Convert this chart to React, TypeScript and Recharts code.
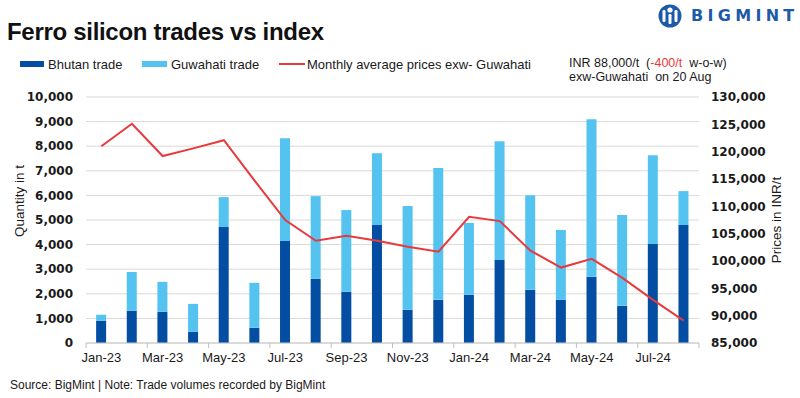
import React from 'react';
import { ComposedChart, Bar, Line, XAxis, YAxis, CartesianGrid } from 'recharts';

const months = ['Jan-23','Feb-23','Mar-23','Apr-23','May-23','Jun-23','Jul-23','Aug-23','Sep-23','Oct-23','Nov-23','Dec-23','Jan-24','Feb-24','Mar-24','Apr-24','May-24','Jun-24','Jul-24','Aug-24'];
const bhutanTrade = [900,1310,1270,460,4715,620,4145,2605,2080,4795,1350,1755,1960,3375,2160,1755,2690,1510,4025,4795];
const guwahatiTrade = [250,1580,1215,1130,1215,1825,4175,3365,3325,2920,4215,5355,2920,4825,3850,2840,6405,3690,3610,1380];
const monthlyPrice = [121000,125100,119200,120600,122100,114700,107500,103700,104600,103700,102600,101700,108100,107300,101900,98800,100400,96900,92900,89100];
const leftTicks = [0,1000,2000,3000,4000,5000,6000,7000,8000,9000,10000];
const rightTicks = [85000,90000,95000,100000,105000,110000,115000,120000,125000,130000];

const data = months.map((m, i) => ({
  month: m,
  bhutan: bhutanTrade[i],
  guwahati: guwahatiTrade[i],
  price: monthlyPrice[i],
}));

const W = 800;
const H = 398;
const LEFT_AXIS_W = 86;
const RIGHT_AXIS_W = 101;
const PLOT_W = W - LEFT_AXIS_W - RIGHT_AXIS_W;
const BAND = PLOT_W / months.length;

const DARK = '#034ea2';
const LIGHT = '#55c3f0';
const RED = '#e8393c';
const TEXT = '#1a1a1a';
const GRID = '#d9d9d9';
const SANS = '"Liberation Sans", Arial, sans-serif';
const BOLDNUM = '"DejaVu Sans", sans-serif';

const fmt = (v: number) => v.toLocaleString('en-US');

const XTick = (props: any) => {
  const { x, y, payload, index } = props;
  const showLabel = index % 2 === 0;
  return (
    <g>
      {showLabel && (
        <line x1={x - BAND / 2} x2={x - BAND / 2} y1={y - 8} y2={y - 3} stroke="#bfbfbf" strokeWidth={1} />
      )}
      {index === months.length - 1 && (
        <line x1={x + BAND / 2} x2={x + BAND / 2} y1={y - 8} y2={y - 3} stroke="#bfbfbf" strokeWidth={1} />
      )}
      {showLabel && (
        <text x={x} y={y + 11} textAnchor="middle" fontFamily={SANS} fontSize={13} fill={TEXT}>
          {payload.value}
        </text>
      )}
    </g>
  );
};

const Logo = () => (
  <div style={{ position: 'absolute', left: 656, top: 4, display: 'flex', alignItems: 'center' }}>
    <svg width={28} height={24} viewBox="0 0 28 24">
      <circle cx={14} cy={12} r={11.5} fill="#1d5aa8" />
      <circle cx={14} cy={6} r={2.6} fill="#fff" />
      <rect x={6.5} y={6} width={3} height={12} rx={1.2} fill="#fff" />
      <rect x={18.5} y={6} width={3} height={12} rx={1.2} fill="#fff" />
      <rect x={12.5} y={10} width={3} height={10} rx={1.2} fill="#fff" />
    </svg>
    <span
      style={{
        marginLeft: 7,
        fontFamily: BOLDNUM,
        fontWeight: 700,
        fontSize: 16,
        letterSpacing: 4.3,
        color: '#1d5aa8',
        lineHeight: '18px',
      }}
    >
      BIGMINT
    </span>
  </div>
);

export default function App() {
  return (
    <div
      style={{
        position: 'absolute',
        left: 0,
        top: 0,
        width: W,
        height: H,
        background: '#fff',
        fontFamily: SANS,
        color: TEXT,
        overflow: 'hidden',
      }}
    >
      <div
        style={{
          position: 'absolute',
          left: 7,
          top: 20,
          fontSize: 24,
          lineHeight: '24px',
          fontWeight: 700,
          letterSpacing: -0.3,
          color: '#111',
          whiteSpace: 'nowrap',
        }}
      >
        Ferro silicon trades vs index
      </div>
      <Logo />

      {/* Legend */}
      <div style={{ position: 'absolute', left: 20, top: 61, width: 24, height: 6, background: DARK }} />
      <div style={{ position: 'absolute', left: 48, top: 57, fontSize: 13, lineHeight: '16px', whiteSpace: 'nowrap' }}>Bhutan trade</div>
      <div style={{ position: 'absolute', left: 142, top: 61, width: 25, height: 6, background: LIGHT }} />
      <div style={{ position: 'absolute', left: 171, top: 57, fontSize: 13, lineHeight: '16px', whiteSpace: 'nowrap' }}>Guwahati trade</div>
      <div style={{ position: 'absolute', left: 279, top: 63, width: 26, height: 2, background: RED }} />
      <div style={{ position: 'absolute', left: 307, top: 57, fontSize: 13, lineHeight: '16px', whiteSpace: 'nowrap' }}>Monthly average prices exw- Guwahati</div>

      {/* Annotation */}
      <div style={{ position: 'absolute', left: 569, top: 55.5, fontSize: 12.5, lineHeight: '14px', height: 14, whiteSpace: 'pre' }}>
        {'INR 88,000/t  ('}
        <span style={{ color: RED }}>-400/t</span>
        {'  w-o-w)'}
      </div>
      <div style={{ position: 'absolute', left: 569, top: 70, fontSize: 12.5, lineHeight: '14px', height: 14, whiteSpace: 'pre' }}>
        {'exw-Guwahati  on 20 Aug'}
      </div>

      {/* Axis titles */}
      <div
        style={{
          position: 'absolute',
          left: 19,
          top: 201,
          transform: 'translate(-50%, -50%) rotate(-90deg)',
          fontSize: 13.5,
          whiteSpace: 'nowrap',
        }}
      >
        Quantity in t
      </div>
      <div
        style={{
          position: 'absolute',
          left: 776,
          top: 220,
          transform: 'translate(-50%, -50%) rotate(-90deg)',
          fontSize: 13.5,
          whiteSpace: 'nowrap',
        }}
      >
        Prices in INR/t
      </div>

      <div style={{ position: 'absolute', left: 0, top: 0 }}>
        <ComposedChart
          width={W}
          height={H}
          data={data}
          margin={{ top: 97, right: 0, bottom: 0, left: 0 }}
          barCategoryGap="33%"
        >
          <CartesianGrid yAxisId="left" vertical={false} stroke={GRID} strokeWidth={1} />
          <XAxis
            dataKey="month"
            interval={0}
            height={55}
            tickLine={false}
            axisLine={{ stroke: '#c8c8c8', strokeWidth: 1 }}
            tick={<XTick />}
          />
          <YAxis
            yAxisId="left"
            orientation="left"
            width={LEFT_AXIS_W}
            domain={[0, 10000]}
            ticks={leftTicks}
            interval={0}
            axisLine={false}
            tickLine={false}
            tickMargin={7}
            tickFormatter={fmt}
            tick={{ fontFamily: BOLDNUM, fontWeight: 700, fontSize: 12, fill: TEXT }}
          />
          <YAxis
            yAxisId="right"
            orientation="right"
            width={RIGHT_AXIS_W}
            domain={[85000, 130000]}
            ticks={rightTicks}
            interval={0}
            axisLine={false}
            tickLine={false}
            tickMargin={6}
            tickFormatter={fmt}
            tick={{ fontFamily: BOLDNUM, fontWeight: 700, fontSize: 12, fill: TEXT, textAnchor: 'start' }}
          />
          <Bar yAxisId="left" dataKey="bhutan" stackId="a" fill={DARK} isAnimationActive={false} />
          <Bar yAxisId="left" dataKey="guwahati" stackId="a" fill={LIGHT} isAnimationActive={false} />
          <Line
            yAxisId="right"
            type="linear"
            dataKey="price"
            stroke={RED}
            strokeWidth={2}
            dot={false}
            activeDot={false}
            isAnimationActive={false}
          />
        </ComposedChart>
      </div>

      <div style={{ position: 'absolute', left: 10, top: 378, fontSize: 12, lineHeight: '14px', whiteSpace: 'nowrap' }}>
        Source: BigMint | Note: Trade volumes recorded by BigMint
      </div>
    </div>
  );
}
